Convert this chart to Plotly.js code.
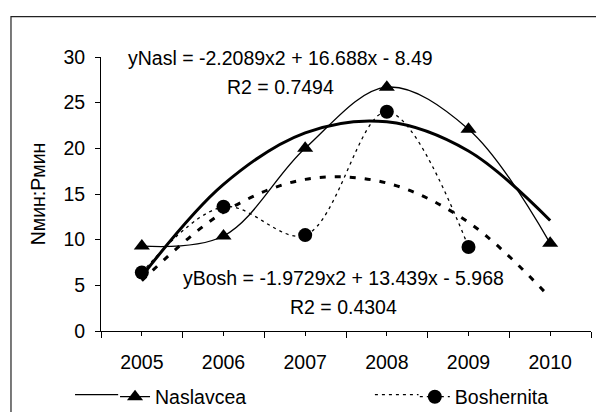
<!DOCTYPE html>
<html>
<head>
<meta charset="utf-8">
<script src="https://cdn.plot.ly/plotly-3.0.1.min.js"></script>
<style>html,body{margin:0;padding:0;background:#fff;}#chart{width:596px;height:412px;}</style>
</head>
<body>
<div id="chart"></div>
<script>
const years = [2005, 2006, 2007, 2008, 2009, 2010];
const naslavcea = [9.3, 10.4, 20.0, 26.7, 22.1, 9.6];
const boshernitaYears = [2005, 2006, 2007, 2008, 2009];
const boshernita = [6.4, 13.6, 10.5, 24.0, 9.2];
const naslTrend = [6.0, 16.05, 21.7, 22.9, 19.7, 12.1];
const boshTrend = [5.5, 13.0, 16.6, 16.2, 11.9, 3.65];
const seriesNames = ['Naslavcea', 'Boshernita'];
const eqNasl = 'yNasl = -2.2089x2 + 16.688x - 8.49';
const r2Nasl = 'R2 = 0.7494';
const eqBosh = 'yBosh = -1.9729x2 + 13.439x - 5.968';
const r2Bosh = 'R2 = 0.4304';
const yTitle = 'Nмин:Pмин';

const FONT = 'Liberation Sans, Arial, sans-serif';
const FS = 19.5;
const txt = {family: FONT, size: FS, color: '#000'};

const traces = [
  {x: years, y: naslTrend, mode: 'lines', line: {shape: 'spline', smoothing: 1, color: '#000', width: 3}, showlegend: false, hoverinfo: 'skip'},
  {x: years, y: boshTrend, mode: 'lines', line: {shape: 'spline', smoothing: 1, color: '#000', width: 3, dash: '6px,9px'}, showlegend: false, hoverinfo: 'skip'},
  {x: years, y: naslavcea, name: seriesNames[0], legend: 'legend', mode: 'lines+markers', line: {shape: 'spline', smoothing: 1, color: '#000', width: 1.3}, marker: {symbol: 'triangle-up', size: 14, color: '#000'}},
  {x: boshernitaYears, y: boshernita, name: seriesNames[1], legend: 'legend2', mode: 'lines+markers', line: {shape: 'spline', smoothing: 1, color: '#000', width: 1.3, dash: '3px,4px'}, marker: {symbol: 'circle', size: 14, color: '#000'}}
];

const legendBase = {orientation: 'h', xref: 'container', yref: 'container', y: 0.0364, yanchor: 'middle', xanchor: 'left', font: txt, bgcolor: 'rgba(0,0,0,0)', borderwidth: 0};

// legend sample extensions (decoration, paper coordinates)
const legendY = -0.2325;

const layout = {
  width: 596, height: 412,
  margin: {l: 101, r: 5, t: 56.5, b: 81},
  paper_bgcolor: '#fff', plot_bgcolor: '#fff',
  font: txt,
  showlegend: true,
  legend: Object.assign({}, legendBase, {x: 0.193}),
  legend2: Object.assign({}, legendBase, {x: 0.696}),
  xaxis: {
    range: [2004.5, 2010.5], tickmode: 'array', tickvals: years, ticktext: years.map(String),
    ticks: 'outside', ticklen: 4, tickcolor: '#000', tickwidth: 1,
    minor: {tickmode: 'linear', tick0: 2004.5, dtick: 1, ticks: 'outside', ticklen: 6, tickcolor: '#000', tickwidth: 1},
    showline: true, linecolor: '#000', linewidth: 1, showgrid: false, zeroline: false,
    ticklabelstandoff: 10, tickfont: txt
  },
  yaxis: {
    range: [0, 30], dtick: 5, tick0: 0,
    ticks: 'outside', ticklen: 5, tickcolor: '#000', tickwidth: 1,
    showline: true, linecolor: '#000', linewidth: 1, showgrid: false, zeroline: false,
    ticklabelstandoff: 6, tickfont: txt,
    title: {text: yTitle, font: txt, standoff: 12}
  },
  shapes: [
    {type: 'rect', xref: 'paper', yref: 'paper', x0: -0.1837, x1: 1.03, y0: -0.32, y1: 1.1475, line: {color: '#222', width: 1.2}, fillcolor: 'rgba(0,0,0,0)', layer: 'below'},
    {type: 'line', xref: 'paper', yref: 'paper', x0: -0.053, x1: 0.035, y0: legendY, y1: legendY, line: {color: '#000', width: 1.3}},
    {type: 'line', xref: 'paper', yref: 'paper', x0: 0.559, x1: 0.648, y0: legendY, y1: legendY, line: {color: '#000', width: 1.3, dash: '3px,4px'}}
  ],
  annotations: [
    {text: eqNasl, xref: 'paper', yref: 'paper', x: 0.367, y: 0.998, showarrow: false, xanchor: 'center', yanchor: 'middle', font: txt},
    {text: r2Nasl, xref: 'paper', yref: 'paper', x: 0.367, y: 0.889, showarrow: false, xanchor: 'center', yanchor: 'middle', font: txt},
    {text: eqBosh, xref: 'paper', yref: 'paper', x: 0.495, y: 0.193, showarrow: false, xanchor: 'center', yanchor: 'middle', font: txt},
    {text: r2Bosh, xref: 'paper', yref: 'paper', x: 0.495, y: 0.0874, showarrow: false, xanchor: 'center', yanchor: 'middle', font: txt}
  ]
};

Plotly.newPlot('chart', traces, layout, {displayModeBar: false, staticPlot: true});
</script>
</body>
</html>
